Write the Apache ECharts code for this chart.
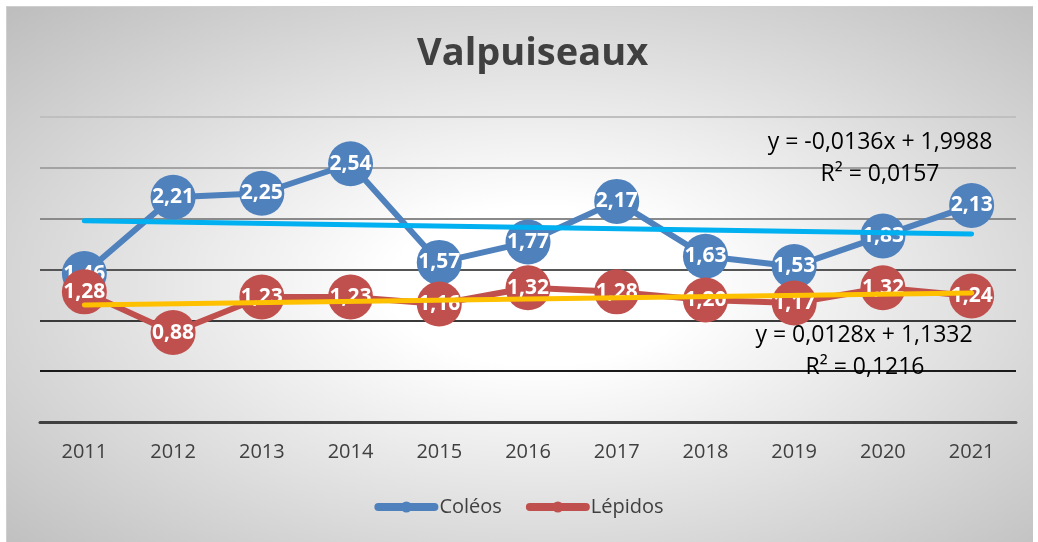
<!DOCTYPE html>
<html lang="fr">
<head>
<meta charset="UTF-8" />
<title>Valpuiseaux</title>
<style>
  html, body { margin: 0; padding: 0; background: #fff; }
  #bg {
    position: absolute; left: 6px; top: 6px; width: 1026px; height: 536px;
    border-top: 1px solid #cfcfcf; border-left: 1px solid #cfcfcf;
    background: radial-gradient(ellipse farthest-corner at 52% 52%, #ffffff 0%, #ffffff 20%, #bdbdbd 100%);
  }
  #main { position: absolute; left: 0; top: 0; width: 1038px; height: 542px; }
</style>
</head>
<body>
<div id="bg"></div>
<div id="main"></div>
<script src="https://cdn.jsdelivr.net/npm/echarts@6/dist/echarts.min.js"></script>
<script type="text/javascript">
  // données
  var annees = ['2011', '2012', '2013', '2014', '2015', '2016', '2017', '2018', '2019', '2020', '2021'];
  var coleos = [1.46, 2.21, 2.25, 2.54, 1.57, 1.77, 2.17, 1.63, 1.53, 1.83, 2.13];
  var lepidos = [1.28, 0.88, 1.23, 1.23, 1.16, 1.32, 1.28, 1.20, 1.17, 1.32, 1.24];
  // courbes de tendance : début (2011) et fin (2021)
  var tendanceColeos = [1.98, 1.85];
  var tendanceLepidos = [1.15, 1.27];
  var equations = [
    'y = -0,0136x + 1,9988', 'R² = 0,0157',
    'y = 0,0128x + 1,1332', 'R² = 0,1216'
  ];

  var police = '"Open Sans", "DejaVu Sans", sans-serif';

  function extremites(paire) {
    var d = annees.map(function () { return null; });
    d[0] = paire[0];
    d[d.length - 1] = paire[1];
    return d;
  }

  function etiquette(p) {
    return p.value.toFixed(2).replace('.', ',');
  }

  function texte(x, y, t) {
    return {
      type: 'text', x: x, y: y, z: 10,
      style: { text: t, font: '23px ' + police, fill: '#000', align: 'center', verticalAlign: 'middle' }
    };
  }

  var myChart = echarts.init(document.getElementById('main'));

  var option = {
    animation: false,
    textStyle: { fontFamily: police },
    title: {
      text: 'Valpuiseaux',
      left: 412,
      top: 30,
      textStyle: { fontSize: 38, fontWeight: 'bold', color: '#404040', fontFamily: police }
    },
    legend: {
      data: ['Coléos', 'Lépidos'],
      bottom: 20,
      left: 'center',
      itemWidth: 56,
      itemHeight: 14,
      itemGap: 24,
      lineStyle: { width: 8, cap: 'round' },
      textStyle: { fontSize: 20, color: '#404040', fontFamily: police }
    },
    grid: { left: 40, right: 22, top: 117, bottom: 120 },
    xAxis: {
      type: 'category',
      data: annees,
      axisTick: { show: false },
      axisLine: { lineStyle: { color: '#404040', width: 3 } },
      axisLabel: { fontSize: 20, color: '#404040', margin: 20, fontFamily: police }
    },
    yAxis: {
      type: 'value',
      min: 0,
      max: 3,
      interval: 0.5,
      axisLabel: { show: false },
      axisLine: { show: false },
      axisTick: { show: false },
      splitLine: {
        lineStyle: {
          width: 2,
          color: ['#404040', '#1a1a1a', '#3a3a3a', '#555555', '#8a8a8a', '#a3a3a3', '#bfbfbf']
        }
      }
    },
    series: [
      {
        name: 'Coléos',
        type: 'line',
        data: coleos,
        z: 2,
        symbol: 'circle',
        symbolSize: 45,
        color: '#4f81bd',
        lineStyle: { width: 6, color: '#4f81bd' },
        label: {
          show: true, position: 'inside', formatter: etiquette,
          color: '#fff', fontSize: 21, fontWeight: 'bold', fontFamily: police
        },
        emphasis: { disabled: true }
      },
      {
        name: 'Lépidos',
        type: 'line',
        data: lepidos,
        z: 3,
        symbol: 'circle',
        symbolSize: 45,
        color: '#c0504d',
        lineStyle: { width: 6, color: '#c0504d' },
        label: {
          show: true, position: 'inside', formatter: etiquette,
          color: '#fff', fontSize: 21, fontWeight: 'bold', fontFamily: police
        },
        emphasis: { disabled: true }
      },
      {
        name: 'Tendance Coléos',
        type: 'line',
        data: extremites(tendanceColeos),
        connectNulls: true,
        z: 6,
        symbol: 'none',
        lineStyle: { width: 5, color: '#00b0f0', cap: 'round' },
        emphasis: { disabled: true }
      },
      {
        name: 'Tendance Lépidos',
        type: 'line',
        data: extremites(tendanceLepidos),
        connectNulls: true,
        z: 6,
        symbol: 'none',
        lineStyle: { width: 5, color: '#ffc000', cap: 'round' },
        emphasis: { disabled: true }
      }
    ],
    graphic: [
      texte(880, 142, equations[0]),
      texte(880, 174, equations[1]),
      texte(864, 335, equations[2]),
      texte(865, 367, equations[3])
    ]
  };

  myChart.setOption(option);
</script>
</body>
</html>
